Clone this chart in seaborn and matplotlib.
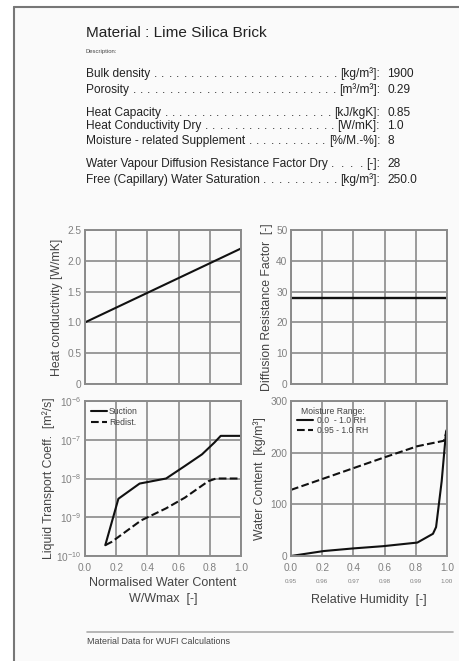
import numpy as np
import pandas as pd
import matplotlib
matplotlib.use("Agg")
import matplotlib.pyplot as plt
import seaborn as sns
from matplotlib.patches import Rectangle
from matplotlib.lines import Line2D
from matplotlib.ticker import NullFormatter, LogLocator

# ---------------- data ----------------
title = "Material : Lime Silica Brick"
description = "Description:"
prop_labels = ["Bulk density", "Porosity", "Heat Capacity", "Heat Conductivity Dry",
               "Moisture - related Supplement", "Water Vapour Diffusion Resistance Factor Dry",
               "Free (Capillary) Water Saturation"]
prop_units = ["[kg/m³]:", "[m³/m³]:", "[kJ/kgK]:", "[W/mK]:", "[%/M.-%]:", "[-]:", "[kg/m³]:"]
prop_values = ["1900", "0.29", "0.85", "1.0", "8", "28", "250.0"]
footer = "Material Data for WUFI Calculations"

hc_w = [0.0, 1.0]
hc_lambda = [1.0, 2.2]

mu_w = [0.0, 1.0]
mu_val = [28.0, 28.0]

suction_w = [0.13, 0.214, 0.35, 0.52, 0.64, 0.75, 0.83, 0.87, 1.0]
suction_dw = [1.9e-10, 3.0e-9, 7.4e-9, 1.0e-8, 2.1e-8, 4.2e-8, 8.5e-8, 1.26e-7, 1.26e-7]
redist_w = [0.13, 0.17, 0.36, 0.52, 0.64, 0.79, 0.84, 1.0]
redist_dw = [1.9e-10, 2.3e-10, 8.3e-10, 1.7e-9, 3.2e-9, 8.5e-9, 1.0e-8, 1.0e-8]

rh_full = [0.0, 0.21, 0.4, 0.59, 0.81, 0.91, 0.93, 0.966, 0.994, 1.0]
wc_full = [0.0, 9.6, 14.7, 19.0, 26.0, 43.0, 56.0, 145.0, 241.0, 245.0]
rh_high_scaled = [0.0, 0.21, 0.4, 0.59, 0.81, 0.98, 1.0]
wc_high = [128.0, 150.0, 170.0, 190.0, 212.5, 223.0, 243.0]

xticks = [0.0, 0.2, 0.4, 0.6, 0.8, 1.0]
xtick_labels = ["0.0", "0.2", "0.4", "0.6", "0.8", "1.0"]
rh_high_labels = ["0.95", "0.96", "0.97", "0.98", "0.99", "1.00"]
hc_ticks = [0, 0.5, 1.0, 1.5, 2.0, 2.5]
hc_tick_labels = ["0", "0.5", "1.0", "1.5", "2.0", "2.5"]
mu_ticks = [0, 10, 20, 30, 40, 50]
wc_ticks = [0, 100, 200, 300]

# ---------------- layout ----------------
W, H = 459, 661
sns.set_style("white")
plt.rcParams["font.family"] = ["Liberation Sans", "DejaVu Sans"]
plt.rcParams["mathtext.fontset"] = "custom"
plt.rcParams["mathtext.rm"] = "Liberation Sans"
plt.rcParams["mathtext.it"] = "Liberation Sans"

fig = plt.figure(figsize=(W / 100, H / 100), dpi=100, facecolor="white")

def fx(px):
    return px / W

def fy(py):
    return 1 - py / H

def axes_px(l, t, r, b):
    ax = fig.add_axes([fx(l), fy(b), (r - l) / W, (b - t) / H])
    ax.set_zorder(5)
    return ax

# page
fig.patches.append(Rectangle((fx(14), 0), 1 - fx(14), fy(7), transform=fig.transFigure,
                             facecolor="#fafafa", edgecolor="none", zorder=-10))
fig.add_artist(Line2D([fx(14), fx(14)], [0, fy(7)], color="#777777", lw=1.5))
fig.add_artist(Line2D([fx(14), 1], [fy(7), fy(7)], color="#777777", lw=1.5))

txt_col = "#222222"
PF = 8.6
fig.text(fx(86), fy(33), title, fontsize=11.1, color=txt_col, va="center", ha="left")
fig.text(fx(86), fy(52), description, fontsize=4.2, color="#444444", va="center", ha="left")

row_y = [74, 90, 113, 126, 141, 164, 180]
label_artists = []
unit_artists = []
for lab, unit, val, y in zip(prop_labels, prop_units, prop_values, row_y):
    a = fig.text(fx(86), fy(y), lab, fontsize=PF, color=txt_col, va="center", ha="left")
    u = fig.text(fx(380), fy(y), unit, fontsize=PF, color=txt_col, va="center", ha="right")
    fig.text(fx(387), fy(y), val, fontsize=PF, color=txt_col, va="center", ha="left")
    label_artists.append(a)
    unit_artists.append(u)

fig.canvas.draw()
renderer = fig.canvas.get_renderer()
DOT_STEP = 7.3
for a, u, y in zip(label_artists, unit_artists, row_y):
    x0 = a.get_window_extent(renderer).x1 + 5
    x1 = u.get_window_extent(renderer).x0 - 5
    n = int((x1 - x0) / DOT_STEP)
    if n < 1:
        continue
    step = (x1 - x0) / n
    for k in range(n + 1):
        fig.text((x0 + k * step) / W, fy(y), ".", fontsize=PF, color=txt_col,
                 va="center", ha="center")

grid_col = "#8a8a8a"
tick_col = "#808080"
lab_col = "#444444"

def style(ax):
    ax.set_facecolor("none")
    for s in ax.spines.values():
        s.set_visible(True)
        s.set_color(grid_col)
        s.set_linewidth(1.4)
    ax.grid(True, color=grid_col, lw=1.2)
    ax.tick_params(length=0, labelsize=7.3, colors=tick_col, pad=2.5)
    ax.set_axisbelow(True)

# heat conductivity
ax1 = axes_px(85, 230, 241, 384)
sns.lineplot(x=hc_w, y=hc_lambda, ax=ax1, color="#111111", lw=1.5)
ax1.set_xlim(0, 1); ax1.set_ylim(0, 2.5)
ax1.set_xticks(xticks); ax1.set_xticklabels([])
ax1.set_yticks(hc_ticks); ax1.set_yticklabels(hc_tick_labels)
style(ax1)
ax1.set_ylabel("Heat conductivity [W/mK]", fontsize=8.8, color=lab_col, labelpad=3)

# diffusion resistance
ax2 = axes_px(291, 230, 447, 384)
sns.lineplot(x=mu_w, y=mu_val, ax=ax2, color="#111111", lw=1.7)
ax2.set_xlim(0, 1); ax2.set_ylim(0, 50)
ax2.set_xticks(xticks); ax2.set_xticklabels([])
ax2.set_yticks(mu_ticks)
style(ax2)
ax2.set_ylabel("Diffusion Resistance Factor  [-]", fontsize=8.8, color=lab_col, labelpad=2)

# liquid transport
ax3 = axes_px(85, 401, 241, 556)
sns.lineplot(x=suction_w, y=suction_dw, ax=ax3, color="#111111", lw=1.5, label="Suction", sort=False)
sns.lineplot(x=redist_w, y=redist_dw, ax=ax3, color="#111111", lw=1.5, ls="--", label="Redist.", sort=False)
ax3.set_yscale("log")
ax3.set_xlim(0, 1); ax3.set_ylim(1e-10, 1e-6)
ax3.set_xticks(xticks); ax3.set_xticklabels(xtick_labels)
ax3.yaxis.set_major_locator(LogLocator(base=10, numticks=10))
ax3.yaxis.set_minor_formatter(NullFormatter())
ax3.tick_params(which="minor", length=0)
style(ax3)
ax3.tick_params(axis="x", pad=5)
ax3.set_ylabel("Liquid Transport Coeff.  [m²/s]", fontsize=8.8, color=lab_col, labelpad=1)
ax3.set_xlabel("Normalised Water Content\nW/Wmax  [-]", fontsize=9, color=lab_col,
               labelpad=3, linespacing=1.4)
leg = ax3.legend(loc="upper left", fontsize=6.2, frameon=False, handlelength=1.8,
                 borderaxespad=0.4, labelspacing=0.25, handletextpad=0.3, borderpad=0.3)
for t in leg.get_texts():
    t.set_color(lab_col)

# moisture storage
ax4 = axes_px(291, 401, 447, 556)
sns.lineplot(x=rh_full, y=wc_full, ax=ax4, color="#111111", lw=1.5, label="0.0  - 1.0 RH", sort=False)
sns.lineplot(x=rh_high_scaled, y=wc_high, ax=ax4, color="#111111", lw=1.5, ls="--",
             label="0.95 - 1.0 RH", sort=False)
ax4.set_xlim(0, 1); ax4.set_ylim(0, 300)
ax4.set_xticks(xticks); ax4.set_xticklabels(xtick_labels)
ax4.set_yticks(wc_ticks)
style(ax4)
ax4.tick_params(axis="x", pad=5)
ax4.set_ylabel("Water Content  [kg/m³]", fontsize=8.8, color=lab_col, labelpad=3)
ax4.set_xlabel("Relative Humidity  [-]", fontsize=9, color=lab_col, labelpad=15)
leg2 = ax4.legend(loc="upper left", fontsize=6.2, frameon=False, handlelength=1.8,
                  title="Moisture Range:", title_fontsize=6.2, borderaxespad=0.3,
                  labelspacing=0.05, handletextpad=0.5)
for t in leg2.get_texts():
    t.set_color(lab_col)
leg2.get_title().set_color(lab_col)
for i, lab in enumerate(rh_high_labels):
    ax4.text(xticks[i], -0.165, lab, transform=ax4.get_xaxis_transform(), fontsize=4.5,
             color=tick_col, ha="center", va="center")

# footer
fig.add_artist(Line2D([fx(87), fx(453)], [fy(632), fy(632)], color="#aaaaaa", lw=1.2))
fig.text(fx(87), fy(641), footer, fontsize=6.4, color=lab_col, va="center", ha="left")

fig.savefig("out.png", dpi=100, facecolor="white")
